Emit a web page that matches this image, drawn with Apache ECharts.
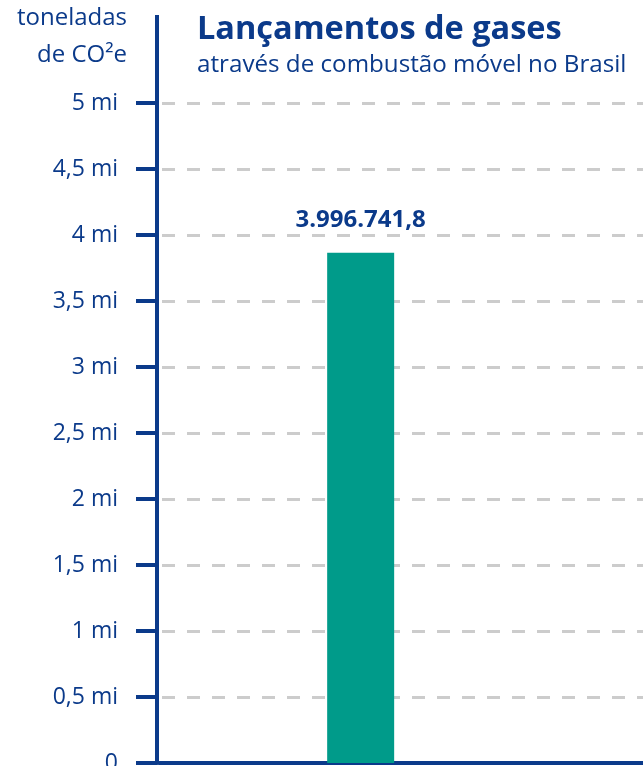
<!DOCTYPE html>
<html>
<head>
<meta charset="utf-8">
<script src="https://cdn.jsdelivr.net/npm/echarts@6/dist/echarts.min.js"></script>
<style>
  html, body { margin: 0; padding: 0; background: #fff; }
  #chart { width: 643px; height: 766px; }
</style>
</head>
<body>
<div id="chart"></div>
<script>
// dados
const categories = ['', '', 'Brasil', '', '', ''];
const barValues = [null, null, 3865000, null, null, null];
const barLabels = ['', '', '3.996.741,8', '', '', ''];
const yTickLabels = ['0', '0,5 mi', '1 mi', '1,5 mi', '2 mi', '2,5 mi', '3 mi', '3,5 mi', '4 mi', '4,5 mi', '5 mi'];

const navy = '#0b3a8a';
const font = 'Open Sans';

const chart = echarts.init(document.getElementById('chart'));

const option = {
    animation: false,
    textStyle: { fontFamily: font },
    grid: {
        left: 159,
        right: 0,
        top: 103,
        bottom: 3,
        outerBoundsMode: 'none'
    },
    xAxis: {
        type: 'category',
        data: categories,
        axisLine: { show: true, lineStyle: { color: navy, width: 4 } },
        axisTick: { show: false },
        axisLabel: { show: false },
        splitLine: { show: false }
    },
    yAxis: {
        type: 'value',
        min: 0,
        max: 5000000,
        interval: 500000,
        offset: 2,
        axisLine: { show: true, lineStyle: { color: navy, width: 4 } },
        axisTick: { show: true, length: 21, lineStyle: { color: navy, width: 4 } },
        axisLabel: {
            color: navy,
            fontSize: 23,
            margin: 39,
            fontFamily: font,
            formatter: (v, i) => yTickLabels[i]
        },
        splitLine: {
            show: true,
            lineStyle: { color: '#cccccc', width: 3, type: [13, 12], dashOffset: -3 }
        }
    },
    graphic: [
        {
            type: 'line',
            shape: { x1: 157, y1: 15, x2: 157, y2: 104 },
            style: { stroke: navy, lineWidth: 4 }
        },
        {
            type: 'text', x: 197, y: 30,
            style: { text: 'Lançamentos de gases', fill: navy, font: 'bold 32.5px "Open Sans"', textVerticalAlign: 'middle' }
        },
        {
            type: 'text', x: 197, y: 65,
            style: { text: 'através de combustão móvel no Brasil', fill: navy, font: '24.2px "Open Sans"', textVerticalAlign: 'middle' }
        },
        {
            type: 'text', x: 127, y: 18,
            style: { text: 'toneladas', fill: navy, font: '24px "Open Sans"', textAlign: 'right', textVerticalAlign: 'middle' }
        },
        {
            type: 'text', x: 127, y: 55,
            style: { text: 'de CO²e', fill: navy, font: '24px "Open Sans"', textAlign: 'right', textVerticalAlign: 'middle' }
        }
    ],
    series: [
        {
            type: 'bar',
            data: barValues,
            barWidth: 67,
            itemStyle: { color: '#009b8a' },
            label: {
                show: true,
                position: 'top',
                distance: 21,
                color: navy,
                fontSize: 24,
                fontWeight: 'bold',
                fontFamily: font,
                formatter: p => barLabels[p.dataIndex]
            }
        }
    ]
};

chart.setOption(option);
</script>
</body>
</html>
